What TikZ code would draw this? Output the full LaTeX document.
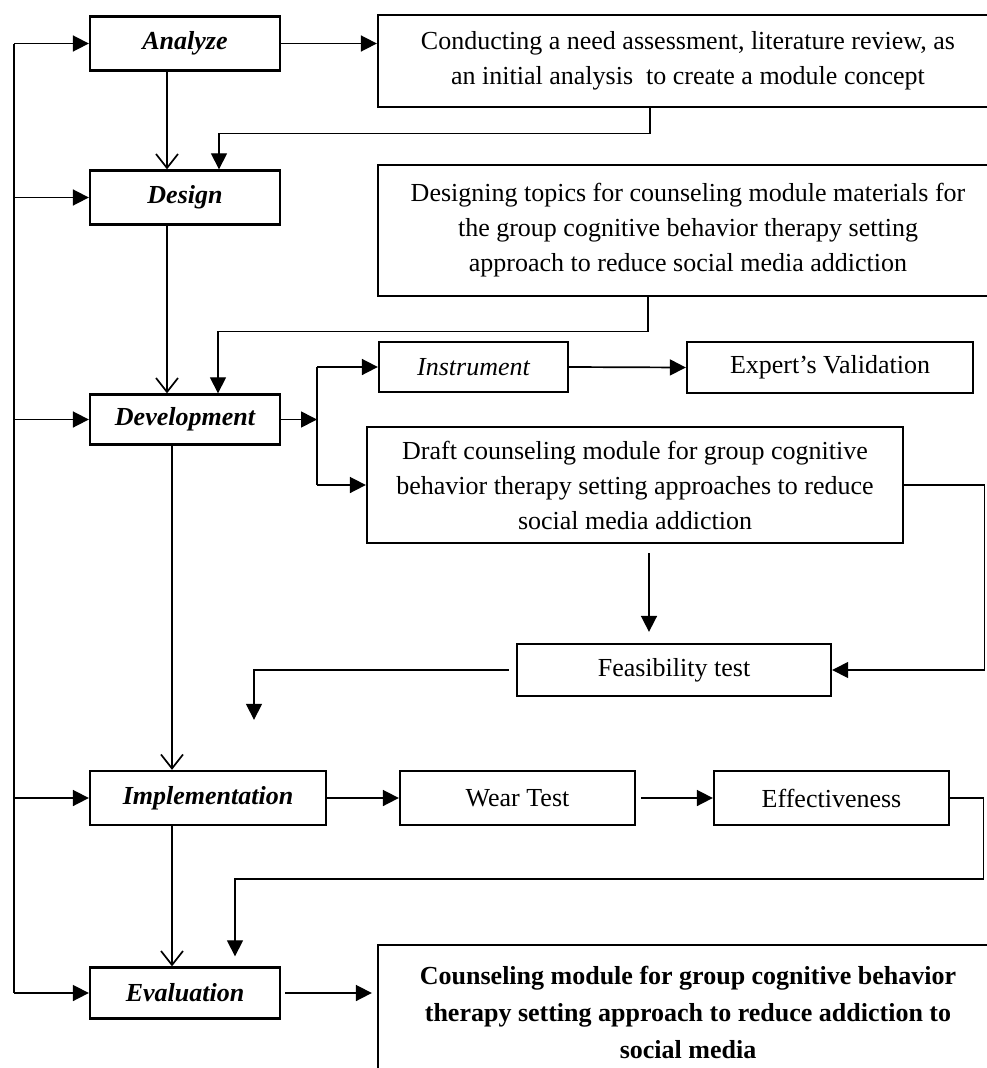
\documentclass[tikz,border=0pt]{standalone}
\usepackage{fontspec}
\setmainfont{Liberation Serif}
\usetikzlibrary{arrows.meta}

\tikzset{
  phase/.style={draw, line width=2.3pt, minimum width=190pt, minimum height=54pt, inner sep=0pt,
    font=\bfseries\itshape\fontsize{26}{34}\selectfont},
  task/.style={draw, line width=2.3pt, inner sep=0pt, align=center,
    font=\fontsize{26}{35}\selectfont},
  link/.style={line width=1.7pt},
  thinlink/.style={line width=1.2pt},
  fillarrow/.style={-{Triangle[length=16pt,width=16pt]}},
  openarrow/.style={-{Straight Barb[length=14pt,width=22pt,line width=1.7pt]}}
}

\begin{document}
\begin{tikzpicture}[x=1pt,y=-1pt]
\useasboundingbox (0,0) rectangle (987,1068);
\clip (0,0) rectangle (987,1068);

% phases
\node[phase] (analyze) at (185,43.5) {Analyze};
\node[phase] (design) at (185,197.5) {Design};
\node[phase, minimum height=50pt] (develop) at (185,419.5) {Development};
\node[phase, minimum width=236pt] (implem) at (208,798) {Implementation};
\node[phase, minimum height=51pt] (eval) at (185,993) {Evaluation};

% tasks
\node[task, minimum width=620pt, minimum height=92pt] (conduct) at (688,61)
  {Conducting a need assessment, literature review, as\\an initial analysis~ to create a module concept};
\node[task, minimum width=620pt, minimum height=131pt] (topics) at (688,230.5)
  {Designing topics for counseling module materials for\\the group cognitive behavior therapy setting\\approach to reduce social media addiction};
\node[task, minimum width=189pt, minimum height=50pt, font=\itshape\fontsize{26}{34}\selectfont] (instr) at (473.5,367) {Instrument};
\node[task, minimum width=286pt, minimum height=51pt] (expert) at (830,367.5) {Expert’s Validation};
\node[task, minimum width=536pt, minimum height=116pt] (draft) at (635,485)
  {Draft counseling module for group cognitive\\behavior therapy setting approaches to reduce\\social media addiction};
\node[task, minimum width=314pt, minimum height=52pt] (feas) at (674,670) {Feasibility test};
\node[task, minimum width=235pt, minimum height=54pt] (wear) at (517.5,798) {Wear Test};
\node[task, minimum width=235pt, minimum height=54pt] (eff) at (831.5,798) {Effectiveness};
\node[task, minimum width=620pt, minimum height=135pt, font=\bfseries\fontsize{26}{37}\selectfont] (final) at (688,1012.5)
  {Counseling module for group cognitive behavior\\therapy setting approach to reduce addiction to\\social media};

% left feedback line
\draw[link] (14,0 |- analyze.west) -- (14,0 |- eval.west);
\foreach \n in {analyze,design,develop,implem,eval}
  \draw[link,fillarrow] (14,0 |- \n.west) -- (\n.west);

% main column
\draw[link,openarrow] (167,0 |- analyze.south) -- (167,0 |- design.north);
\draw[link,openarrow] (167,0 |- design.south) -- (167,0 |- develop.north);
\draw[link,openarrow] (172,0 |- develop.south) -- (172,0 |- implem.north);
\draw[link,openarrow] (172,0 |- implem.south) -- (172,0 |- eval.north);

% analyze and design
\draw[link,fillarrow] (analyze.east) -- (conduct.west |- analyze.east);
\draw[thinlink,fillarrow] (650,0 |- conduct.south) -- ++(0,25) -| (219,0 |- design.north);
\draw[thinlink,fillarrow] (648,0 |- topics.south) -- ++(0,34) -| (218,0 |- develop.north);

% development
\coordinate (split) at (317,0 |- develop.east);
\draw[link,fillarrow] (develop.east) -- (split);
\draw[thinlink] (split |- instr.west) -- (split |- draft.west);
\draw[link,fillarrow] (split |- instr.west) -- (instr.west);
\draw[link,fillarrow] (split |- draft.west) -- (draft.west);
\draw[link,fillarrow] (instr.east) -- (expert.west);
\draw[thinlink,fillarrow] (draft.east) -- ++(80,0) |- (feas.east);
\draw[link,fillarrow,shorten <=9pt,shorten >=11pt] (649,0 |- draft.south) -- (649,0 |- feas.north);
\draw[thinlink,fillarrow,shorten <=7pt,shorten >=50pt] (feas.west) -| (254,0 |- implem.north);

% implementation
\draw[link,fillarrow] (implem.east) -- (wear.west);
\draw[link,fillarrow,shorten <=5pt] (wear.east) -- (eff.west);
\draw[thinlink,fillarrow,shorten >=10pt] (eff.east) -- ++(33,0) -- ++(0,81) -| (235,0 |- eval.north);

% evaluation
\draw[link,fillarrow,shorten <=4pt,shorten >=5pt] (eval.east) -- (final.west |- eval.east);

\end{tikzpicture}
\end{document}
